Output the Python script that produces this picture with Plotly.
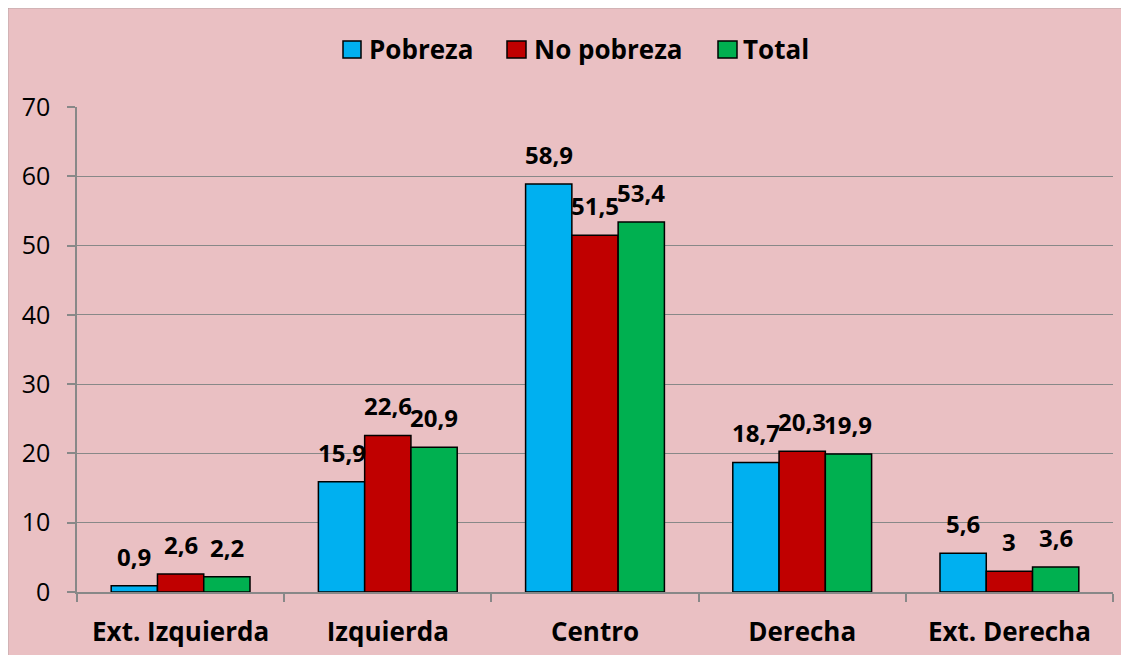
import plotly.graph_objects as go

categories = ["Ext. Izquierda", "Izquierda", "Centro", "Derecha", "Ext. Derecha"]
pobreza = [0.9, 15.9, 58.9, 18.7, 5.6]
no_pobreza = [2.6, 22.6, 51.5, 20.3, 3.0]
total = [2.2, 20.9, 53.4, 19.9, 3.6]
y_ticks = [0, 10, 20, 30, 40, 50, 60, 70]

series = [
    ("Pobreza", pobreza, "#00B0F0"),
    ("No pobreza", no_pobreza, "#C00000"),
    ("Total", total, "#00B050"),
]

FONT = "Open Sans"
BOLD = 26
LABEL = 24
BARGAP = 0.33

def fmt(v):
    return f"{v:g}".replace(".", ",")

# page body has an 8px margin; figure sized to fit inside the window
OFF = 8
W, H = 1113, 647
ml, mr, mt, mb = 69, 8, 99, 63
pw, ph = W - ml - mr, H - mt - mb

def sx(x):  # screen px -> paper x
    return (x - OFF - ml) / pw

def sy(y):  # screen px -> paper y
    return (H - mb - (y - OFF)) / ph

fig = go.Figure()
for name, vals, color in series:
    fig.add_trace(go.Bar(
        x=categories, y=vals, name=name,
        marker=dict(color=color, line=dict(color="black", width=1.5)),
        showlegend=False,
    ))

# data labels above each bar
bar_w = pw / len(categories) * (1 - BARGAP) / len(series)
for i, (name, vals, color) in enumerate(series):
    shift = (i - (len(series) - 1) / 2) * bar_w
    for c, v in zip(categories, vals):
        fig.add_annotation(x=c, y=v, text=fmt(v), showarrow=False,
                           xanchor="center", yanchor="bottom",
                           xshift=shift, yshift=11,
                           font=dict(family=FONT, size=LABEL, color="black",
                                     weight="bold"))

# background panel with border
fig.add_shape(type="rect", xref="paper", yref="paper",
              x0=sx(7.5), x1=sx(1250), y0=sy(760), y1=sy(7.5),
              fillcolor="#EAC0C3", line=dict(color="#8C8C8C", width=1.5),
              layer="below")

# legend (custom, to match the large square keys)
legend_boxes = [(343, 361), (507, 526), (718, 737)]
legend_text_x = [369, 534, 743]
for (name, vals, color), (bx0, bx1), tx in zip(series, legend_boxes, legend_text_x):
    fig.add_shape(type="rect", xref="paper", yref="paper",
                  x0=sx(bx0), x1=sx(bx1), y0=sy(58), y1=sy(41),
                  fillcolor=color, line=dict(color="black", width=1.5))
    fig.add_annotation(xref="paper", yref="paper", x=sx(tx - 2), y=sy(49.5),
                       text=name, showarrow=False, xanchor="left",
                       yanchor="middle",
                       font=dict(family=FONT, size=BOLD, color="black",
                                 weight="bold"))

fig.update_layout(
    width=W, height=H,
    margin=dict(l=ml, r=mr, t=mt, b=mb, autoexpand=False),
    paper_bgcolor="#EAC0C3", plot_bgcolor="white",
    barmode="group", bargap=BARGAP, bargroupgap=0,
    font=dict(family=FONT, color="black"),
    showlegend=False,
)
fig.update_xaxes(
    automargin=False,
    showline=True, linecolor="#888888", linewidth=1.5,
    ticks="outside", tickson="boundaries", ticklen=8, tickcolor="#888888",
    tickwidth=1.5,
    tickfont=dict(family=FONT, size=BOLD, color="black", weight="bold"),
    ticklabelstandoff=16,
)
fig.update_yaxes(
    automargin=False,
    range=[0, 70], tickvals=y_ticks,
    showline=True, linecolor="#888888", linewidth=1.5,
    showgrid=True, gridcolor="#888888", gridwidth=1,
    ticks="outside", ticklen=8, tickcolor="#888888", tickwidth=1.5,
    tickfont=dict(family=FONT, size=25, color="black"),
    ticklabelstandoff=12, zeroline=False,
)

fig.write_html("out.html")
